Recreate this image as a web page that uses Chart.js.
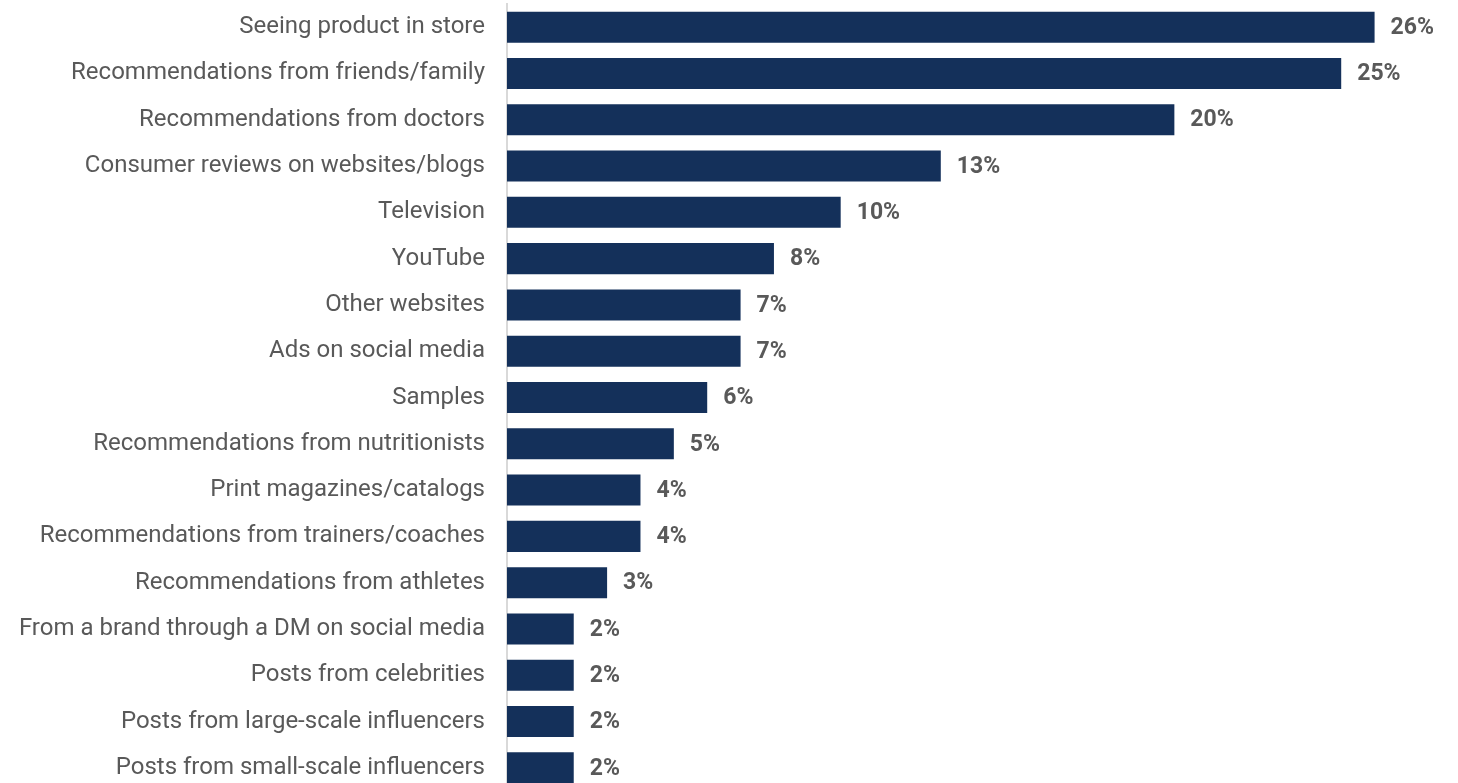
<!DOCTYPE html>
<html>
<head>
<meta charset="utf-8">
<script src="https://cdn.jsdelivr.net/npm/chart.js@4"></script>
<style>
  html, body { margin: 0; padding: 0; background: #fff; overflow: hidden; }
  canvas { display: block; }
</style>
</head>
<body>
<canvas id="chart" width="1458" height="791"></canvas>
<script>
// Sources of product discovery (share of respondents, %)
const categories = [
  'Seeing product in store',
  'Recommendations from friends/family',
  'Recommendations from doctors',
  'Consumer reviews on websites/blogs',
  'Television',
  'YouTube',
  'Other websites',
  'Ads on social media',
  'Samples',
  'Recommendations from nutritionists',
  'Print magazines/catalogs',
  'Recommendations from trainers/coaches',
  'Recommendations from athletes',
  'From a brand through a DM on social media',
  'Posts from celebrities',
  'Posts from large-scale influencers',
  'Posts from small-scale influencers'
];
const shares = [26, 25, 20, 13, 10, 8, 7, 7, 6, 5, 4, 4, 3, 2, 2, 2, 2];

const BAR_COLOR = '#14305a';
const TEXT_COLOR = '#595959';

// value labels at the end of each bar
const valueLabels = {
  id: 'valueLabels',
  afterDatasetsDraw(chart) {
    const ctx = chart.ctx;
    const meta = chart.getDatasetMeta(0);
    ctx.save();
    ctx.font = 'bold 23px Roboto';
    ctx.fillStyle = TEXT_COLOR;
    ctx.textAlign = 'left';
    ctx.textBaseline = 'middle';
    meta.data.forEach((bar, i) => {
      ctx.fillText(shares[i] + '%', bar.x + 16, bar.y + 1);
    });
    ctx.restore();
  }
};

new Chart(document.getElementById('chart').getContext('2d'), {
  type: 'bar',
  data: {
    labels: categories,
    datasets: [{
      data: shares,
      backgroundColor: BAR_COLOR,
      borderWidth: 0,
      barPercentage: 1,
      categoryPercentage: 0.67
    }]
  },
  options: {
    indexAxis: 'y',
    responsive: false,
    animation: false,
    layout: { padding: { top: 4, right: 0, bottom: 0, left: 0 } },
    plugins: {
      legend: { display: false },
      tooltip: { enabled: false }
    },
    scales: {
      x: {
        display: false,
        min: 0,
        max: 28.5
      },
      y: {
        afterFit: (scale) => {
          scale.width = 507;
          // labels are centred in their bands, no extra room needed
          scale.paddingTop = 0;
          scale.paddingBottom = 0;
        },
        grid: { display: false, drawTicks: false },
        border: { display: true, color: '#d9d9d9', width: 2 },
        ticks: {
          color: TEXT_COLOR,
          padding: 22,
          font: { family: 'Roboto', size: 24 }
        }
      }
    }
  },
  plugins: [valueLabels]
});
</script>
</body>
</html>
